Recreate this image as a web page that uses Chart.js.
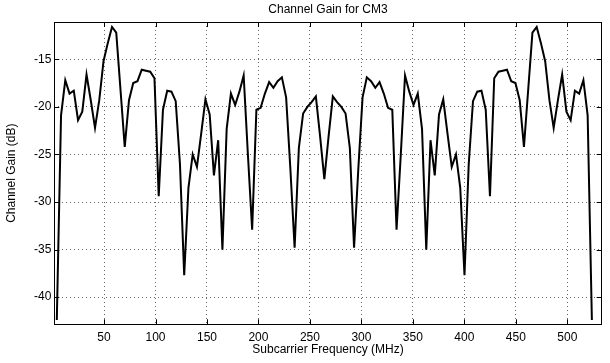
<!DOCTYPE html>
<html>
<head>
<meta charset="utf-8">
<script src="https://cdn.jsdelivr.net/npm/chart.js@4.4.0/dist/chart.umd.min.js"></script>
<style>
  html, body { margin: 0; padding: 0; background: #fff; }
</style>
</head>
<body>
<canvas id="myChart" width="610" height="363"></canvas>
<script>
// Channel gain per subcarrier (dB), subcarrier 1..127
const gainDb = [
  -42.4, -20.9, -17.2, -18.6, -18.3, -21.4, -20.5, -16.6, -19.3, -22.2,
  -19.3, -15.2, -13.3, -11.6, -12.2, -18.2, -24.2, -19.3, -17.5, -17.3,
  -16.1, -16.2, -16.3, -17.0, -29.4, -20.3, -18.3, -18.4, -19.4, -26.0,
  -37.7, -28.5, -25.0, -26.3, -22.8, -19.2, -20.8, -27.2, -23.5, -35.0,
  -22.3, -18.6, -19.8, -18.4, -16.7, -25.0, -32.9, -20.3, -20.1, -18.6,
  -17.4, -18.0, -17.3, -16.9, -19.0, -26.5, -34.8, -24.3, -20.7, -20.0,
  -19.5, -18.9, -23.1, -27.6, -23.1, -18.9, -19.5, -20.0, -20.7, -24.3,
  -34.8, -26.5, -19.0, -16.9, -17.3, -18.0, -17.4, -18.6, -20.1, -20.3,
  -32.9, -25.0, -16.7, -18.4, -19.8, -18.6, -22.3, -35.0, -23.5, -27.2,
  -20.8, -19.2, -22.8, -26.3, -25.0, -28.5, -37.7, -26.0, -19.4, -18.4,
  -18.3, -20.3, -29.4, -17.0, -16.3, -16.2, -16.1, -17.3, -17.5, -19.3,
  -24.2, -18.2, -12.2, -11.6, -13.3, -15.2, -19.3, -22.2, -19.3, -16.6,
  -20.5, -21.4, -18.3, -18.6, -17.2, -20.9, -42.4
];
const spacingMHz = 4.125; // subcarrier spacing
const freqMHz = gainDb.map((g, i) => (i + 1) * spacingMHz);

const xTicks = [50, 100, 150, 200, 250, 300, 350, 400, 450, 500];
const yTicks = [-40, -35, -30, -25, -20, -15];

const FONT = "'Liberation Sans', Arial, Helvetica, sans-serif";
Chart.defaults.font.family = FONT;
Chart.defaults.font.size = 12;
Chart.defaults.color = '#000';

// matlab style: box round the axes, ticks pointing inwards on all sides
const matlabBox = {
  id: 'matlabBox',
  afterDatasetsDraw(chart) {
    const { ctx, chartArea: a, scales: { x, y } } = chart;
    const len = 5;
    ctx.save();
    ctx.strokeStyle = '#000';
    ctx.lineWidth = 1;
    ctx.beginPath();
    xTicks.forEach(v => {
      const px = Math.round(x.getPixelForValue(v)) + 0.5;
      ctx.moveTo(px, a.bottom); ctx.lineTo(px, a.bottom - len);
      ctx.moveTo(px, a.top); ctx.lineTo(px, a.top + len);
    });
    yTicks.forEach(v => {
      const py = Math.round(y.getPixelForValue(v)) + 0.5;
      ctx.moveTo(a.left, py); ctx.lineTo(a.left + len, py);
      ctx.moveTo(a.right, py); ctx.lineTo(a.right - len, py);
    });
    ctx.stroke();
    ctx.strokeRect(Math.round(a.left) + 0.5, Math.round(a.top) + 0.5,
      Math.round(a.right - a.left), Math.round(a.bottom - a.top));
    ctx.restore();
  }
};

const ctx = document.getElementById('myChart').getContext('2d');
const myChart = new Chart(ctx, {
  type: 'line',
  data: {
    datasets: [{
      data: freqMHz.map((f, i) => ({ x: f, y: gainDb[i] })),
      borderColor: '#000',
      borderWidth: 2,
      pointRadius: 0,
      tension: 0,
      fill: false
    }]
  },
  options: {
    responsive: false,
    animation: false,
    devicePixelRatio: 1,
    layout: { padding: { left: 0, right: 8.3, top: 0, bottom: 0 } },
    plugins: {
      legend: { display: false },
      tooltip: { enabled: false },
      title: {
        display: true,
        text: 'Channel Gain for CM3',
        fullSize: false,
        color: '#000',
        font: { size: 12, weight: 'normal' },
        padding: { top: 2.1, bottom: 5.5 }
      }
    },
    scales: {
      x: {
        type: 'linear',
        min: 1.7,
        max: 533.4,
        afterBuildTicks: s => { s.ticks = xTicks.map(v => ({ value: v })); },
        afterFit: s => { s.height = 38.7; },
        ticks: { padding: 6, color: '#000', maxRotation: 0 },
        grid: { color: 'rgba(0,0,0,0.6)', drawTicks: false },
        border: { display: false, dash: [1, 3] },
        title: {
          display: true,
          text: 'Subcarrier Frequency (MHz)',
          color: '#000',
          padding: { top: 0, bottom: 5.8 }
        }
      },
      y: {
        type: 'linear',
        min: -42.85,
        max: -11.08,
        afterBuildTicks: s => { s.ticks = yTicks.map(v => ({ value: v })); },
        afterFit: s => { s.width = 54.3; },
        ticks: { padding: 3, color: '#000' },
        grid: { color: 'rgba(0,0,0,0.6)', drawTicks: false },
        border: { display: false, dash: [1, 3] },
        title: {
          display: true,
          text: 'Channel Gain (dB)',
          color: '#000',
          padding: { top: 4, bottom: 0 }
        }
      }
    }
  },
  plugins: [matlabBox]
});
</script>
</body>
</html>
